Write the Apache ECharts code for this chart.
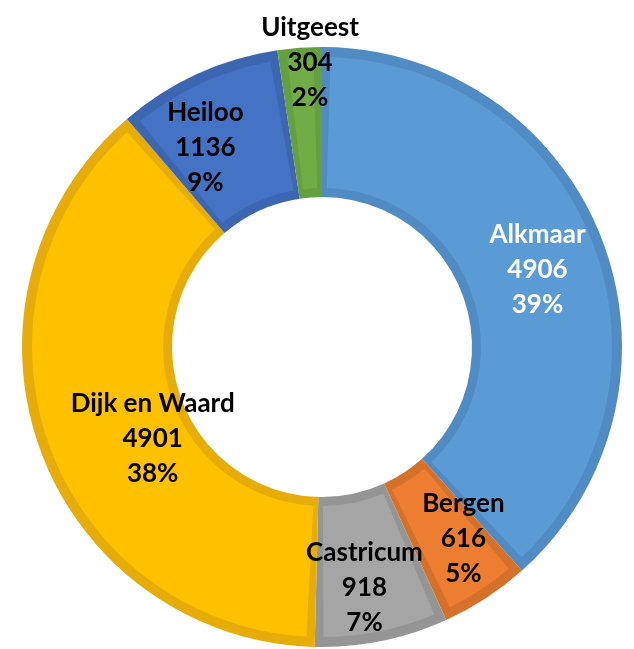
<!DOCTYPE html>
<html>
<head>
<meta charset="utf-8">
<script src="https://cdn.jsdelivr.net/npm/echarts@6/dist/echarts.min.js"></script>
<style>
html,body{margin:0;padding:0;background:#fff;}
#chart{width:634px;height:649px;}
</style>
</head>
<body>
<div id="chart"></div>
<script>
const categories = ['Alkmaar', 'Bergen', 'Castricum', 'Dijk en Waard', 'Heiloo', 'Uitgeest'];
const values = [4906, 616, 918, 4901, 1136, 304];
const percentLabels = ['39%', '5%', '7%', '38%', '9%', '2%'];
const fillColors = ['#5B9BD5', '#ED7D31', '#A5A5A5', '#FFC000', '#4472C4', '#70AD47'];
const bandColors = ['#518BC3', '#D6712C', '#959595', '#E6AD0A', '#3D66B0', '#64A03F'];
const labelColors = ['#ffffff', '#000000', '#000000', '#000000', '#000000', '#000000'];
const labelOffsets = [[3, 4], [17, 1], [-3, 18], [45, 15], [-22, 8], [5, -58]];

const chart = echarts.init(document.getElementById('chart'));

const baseData = categories.map((c, i) => ({
  name: c, value: values[i], itemStyle: { color: bandColors[i] }
}));
const topData = categories.map((c, i) => ({
  name: c, value: values[i],
  itemStyle: { color: fillColors[i] },
  label: { color: labelColors[i], offset: labelOffsets[i] }
}));

chart.setOption({
  animation: false,
  series: [
    {
      type: 'pie',
      center: [322, 347],
      radius: [150, 300],
      startAngle: 90,
      clockwise: true,
      silent: true,
      label: { show: false },
      labelLine: { show: false },
      data: baseData
    },
    {
      type: 'pie',
      center: [322, 347],
      radius: [159, 290],
      startAngle: 90,
      clockwise: true,
      padAngle: 3.4,
      silent: true,
      avoidLabelOverlap: false,
      labelLayout: { hideOverlap: false },
      labelLine: { show: false },
      label: {
        show: true,
        position: 'inside',
        fontFamily: 'Lato',
        fontWeight: 'bold',
        fontSize: 26,
        lineHeight: 35,
        align: 'center',
        formatter: function (p) {
          const i = p.dataIndex;
          return categories[i] + '\n' + values[i] + '\n' + percentLabels[i];
        }
      },
      data: topData
    }
  ]
});
</script>
</body>
</html>
